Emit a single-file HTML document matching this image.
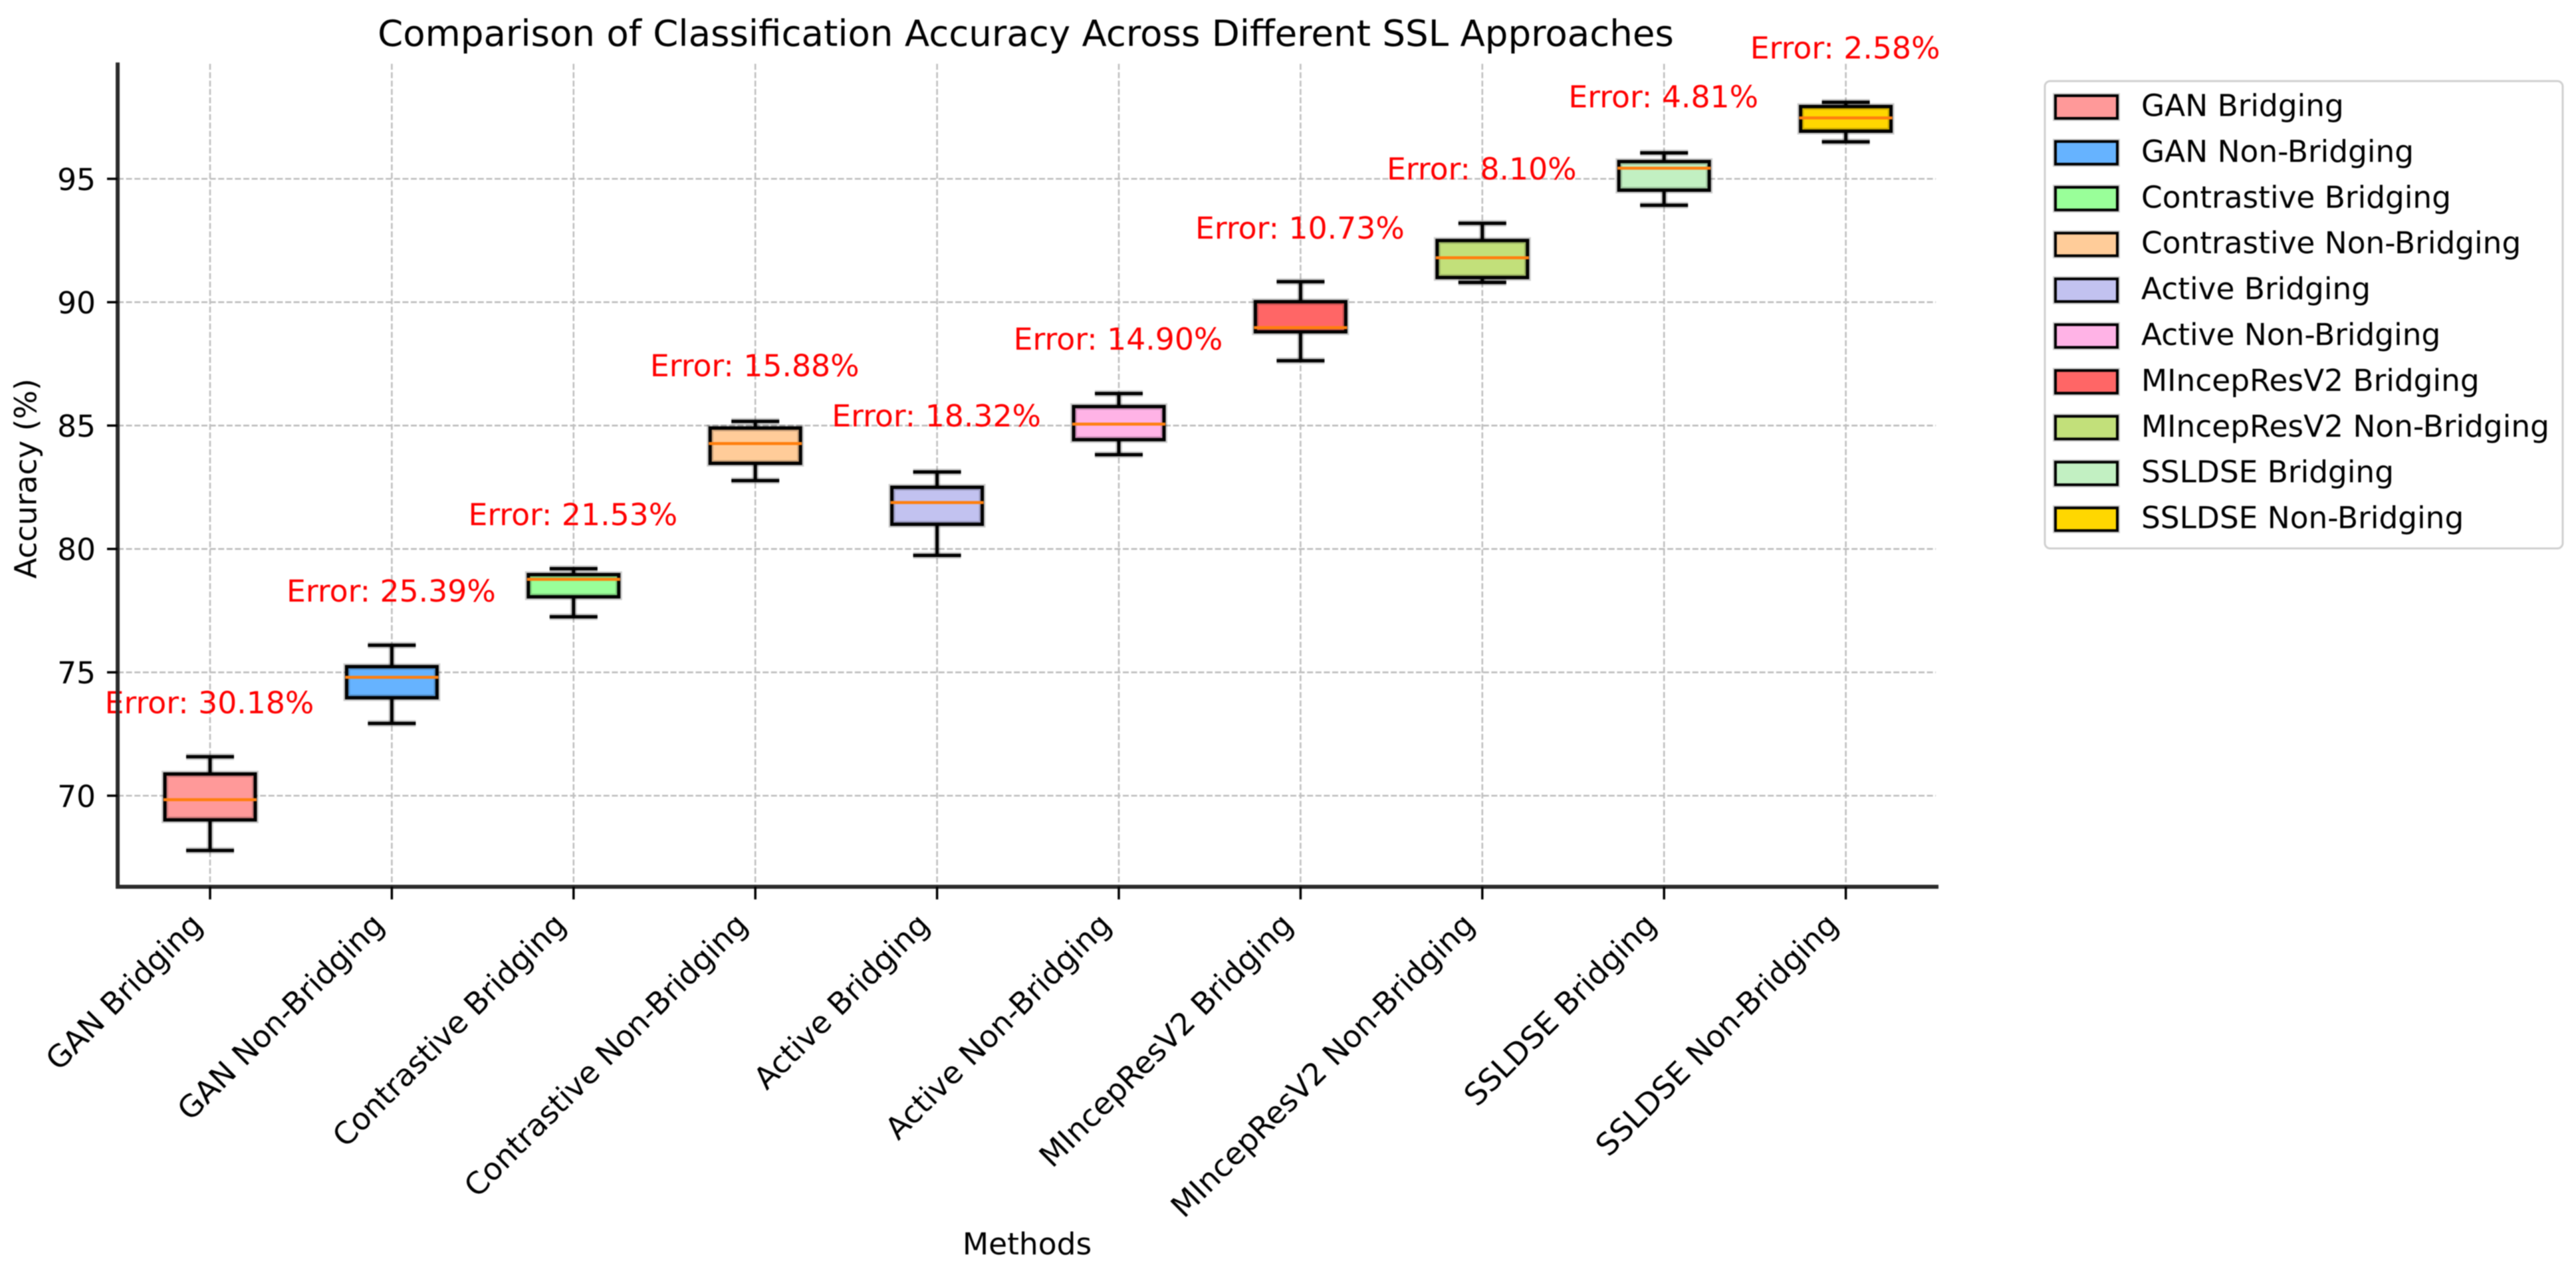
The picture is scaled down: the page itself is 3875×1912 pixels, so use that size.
<!DOCTYPE html>
<html lang="en">
<head>
<meta charset="utf-8">
<title>Comparison of Classification Accuracy Across Different SSL Approaches</title>
<style>
html,body{margin:0;padding:0;background:#fff;width:3875px;height:1912px;overflow:hidden}
svg{display:block;filter:blur(0.9px)}
text{font-family:"DejaVu Sans","Liberation Sans",sans-serif;fill:#000}
</style>
</head>
<body>
<svg id="chart" xmlns="http://www.w3.org/2000/svg" width="3875" height="1912" viewBox="0 0 3875 1912">
<rect x="0" y="0" width="3875" height="1912" fill="#ffffff"/>
<text x="1543" y="69" font-size="54.6" text-anchor="middle">Comparison of Classification Accuracy Across Different SSL Approaches</text>
<text x="1545" y="1887" font-size="45.5" text-anchor="middle">Methods</text>
<text x="0" y="0" font-size="45.5" text-anchor="middle" transform="translate(54.5 720) rotate(-90)">Accuracy (%)</text>
</svg>
<script>
const categories = ['GAN Bridging','GAN Non-Bridging','Contrastive Bridging','Contrastive Non-Bridging','Active Bridging','Active Non-Bridging','MIncepResV2 Bridging','MIncepResV2 Non-Bridging','SSLDSE Bridging','SSLDSE Non-Bridging'];
const whiskerLow = [67.78,72.93,77.25,82.77,79.74,83.82,87.63,90.8,93.93,96.5];
const quartile1 = [69.02,73.97,78.06,83.47,81.0,84.43,88.8,91.0,94.54,96.93];
const medianValues = [69.84,74.8,78.77,84.27,81.88,85.06,88.97,91.8,95.43,97.47];
const quartile3 = [70.88,75.23,78.96,84.9,82.5,85.77,90.02,92.5,95.7,97.93];
const whiskerHigh = [71.58,76.1,79.2,85.17,83.12,86.3,90.83,93.2,96.05,98.1];
const errorRates = [30.18,25.39,21.53,15.88,18.32,14.90,10.73,8.10,4.81,2.58];
const errorLabelHeights = [73.34,77.87,80.96,87.0,84.97,88.07,92.57,94.97,97.9,99.87];
const yTickValues = [70,75,80,85,90,95];
const palette = ['#ff9999','#66b3ff','#99ff99','#ffcc99','#c2c2f0','#ffb3e6','#ff6666','#c2e07a','#c2f0c2','#ffd700'];

const svg = document.getElementById('chart');
const NS = 'http://www.w3.org/2000/svg';
const plot = {left:177, right:2912, top:94, bottom:1334};
const xScale = i => 316 + i * 273.4;
const yScale = v => 1197 - (v - 70) * 37.12;
const slug = s => s.toLowerCase().replace(/[^a-z0-9]+/g,'-');

function mk(tag, parent, props){
  const el = document.createElementNS(NS, tag);
  for(const k in props) el.setAttribute(k, props[k]);
  parent.appendChild(el);
  return el;
}
function seg(parent, x1, y1, x2, y2, color, width, extra){
  return mk('line', parent, Object.assign({x1, y1, x2, y2, stroke:color, 'stroke-width':width}, extra || {}));
}

/* grid */
const gridGroup = mk('g', svg, {});


yTickValues.forEach(v => {
  const l = seg(gridGroup, plot.left, yScale(v), plot.right, yScale(v), '#bcbcbc', 2.6, {'stroke-dasharray':'9 3.6'});
  
  
});
categories.forEach((c, i) => {
  const l = seg(gridGroup, xScale(i), plot.top + 2, xScale(i), plot.bottom, '#c0c0c0', 2.6, {'stroke-dasharray':'9 3.6'});
  
  
});

/* boxes */
const halo = 'rgba(0,0,0,0.2)';
const boxHalf = 68, capHalf = 36;
categories.forEach((c, i) => {
  const g = mk('g', svg, {});
  
  
  const x = xScale(i);
  const yLow = yScale(whiskerLow[i]), yQ1 = yScale(quartile1[i]), yMed = yScale(medianValues[i]), yQ3 = yScale(quartile3[i]), yHigh = yScale(whiskerHigh[i]);
  const fill = mk('rect', g, {x:x - boxHalf, y:yQ3, width:boxHalf * 2, height:yQ1 - yQ3, fill:palette[i]});
  
  
  const haloRect = mk('rect', g, {x:x - boxHalf, y:yQ3, width:boxHalf * 2, height:yQ1 - yQ3, fill:'none', stroke:halo, 'stroke-width':10});
  
  
  [[x, yQ3, x, yHigh], [x, yQ1, x, yLow], [x - capHalf, yHigh, x + capHalf, yHigh], [x - capHalf, yLow, x + capHalf, yLow]].forEach(p => {
    seg(g, p[0], p[1], p[2], p[3], halo, 10);
  });
  const upper = seg(g, x, yQ3, x, yHigh, '#000', 5);
  
  
  const lower = seg(g, x, yQ1, x, yLow, '#000', 5);
  
  
  const capHigh = seg(g, x - capHalf, yHigh, x + capHalf, yHigh, '#000', 5);
  
  
  const capLow = seg(g, x - capHalf, yLow, x + capHalf, yLow, '#000', 5);
  
  
  const outline = mk('rect', g, {x:x - boxHalf, y:yQ3, width:boxHalf * 2, height:yQ1 - yQ3, fill:'none', stroke:'#000', 'stroke-width':5});
  
  
  const med = seg(g, x - boxHalf - 2, yMed, x + boxHalf + 2, yMed, '#ff7f0e', 4.5);
  
  
});

/* error labels */
categories.forEach((c, i) => {
  const t = mk('text', svg, {x:xScale(i) - 1, y:yScale(errorLabelHeights[i]), 'font-size':45.7, 'text-anchor':'middle', style:'fill:#ff0000'});
  t.textContent = 'Error: ' + errorRates[i].toFixed(2) + '%';
  
  
});

/* spines */
const leftSpine = seg(svg, plot.left, plot.top, plot.left, plot.bottom + 3, '#2b2b2b', 6);


const bottomSpine = seg(svg, plot.left - 3, plot.bottom, plot.right + 4, plot.bottom, '#2b2b2b', 6);



/* y ticks */
yTickValues.forEach(v => {
  const tick = seg(svg, 161, yScale(v), plot.left, yScale(v), '#000', 3.5);
  
  
  const label = mk('text', svg, {x:144, y:yScale(v) + 16.8, 'font-size':45.5, 'text-anchor':'end'});
  label.textContent = v;
  
  
});

/* x ticks */
categories.forEach((c, i) => {
  const x = xScale(i);
  const tick = seg(svg, x, plot.bottom, x, 1353, '#000', 3.5);
  
  
  const label = mk('text', svg, {x:0, y:0, 'font-size':46, 'text-anchor':'end', transform:'translate(' + (x - 9) + ' 1394) rotate(-45)'});
  label.textContent = c;
  
  
});

/* legend */
const legend = mk('g', svg, {});


const frame = mk('rect', legend, {x:3076, y:122, width:779, height:703, rx:8, ry:8, fill:'#fff', stroke:'#d0d0d0', 'stroke-width':3});


categories.forEach((c, i) => {
  const row = mk('g', legend, {});
  
  
  const top = 144 + i * 68.9;
  const shadow = mk('rect', row, {x:3092, y:top, width:93, height:34, fill:'none', stroke:halo, 'stroke-width':8});
  
  
  const swatch = mk('rect', row, {x:3092, y:top, width:93, height:34, fill:palette[i], stroke:'#000', 'stroke-width':4});
  
  
  const text = mk('text', row, {x:3221, y:top + 30.5, 'font-size':45.4});
  text.textContent = c;
  
  
});
</script>
</body>
</html>
